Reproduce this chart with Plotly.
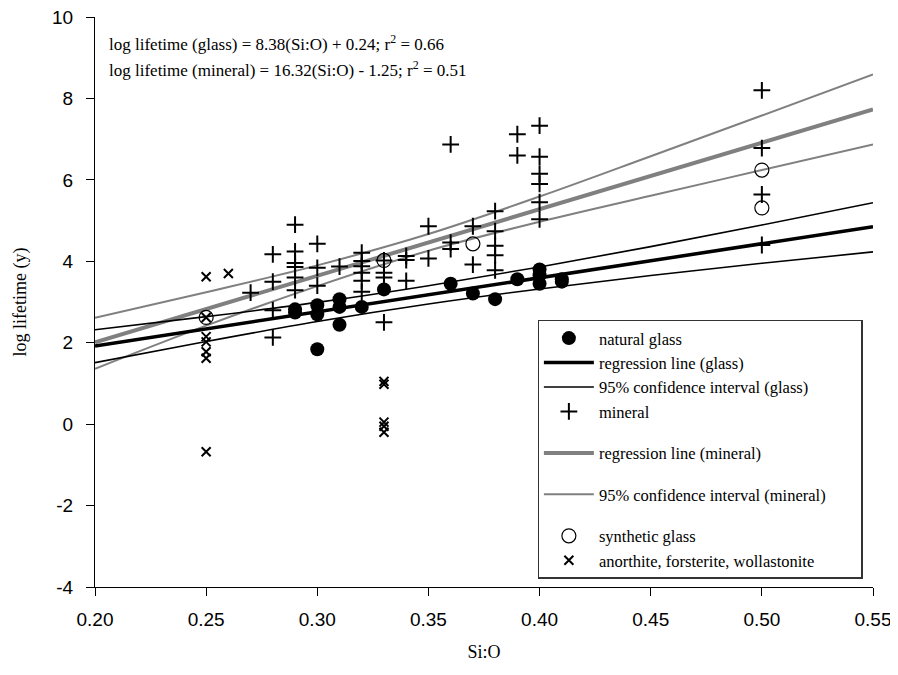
import plotly.graph_objects as go

# ---------------- data ----------------
glass_x = [0.29, 0.29, 0.30, 0.30, 0.30, 0.31, 0.31, 0.31, 0.32, 0.33,
           0.36, 0.37, 0.38, 0.39, 0.40, 0.40, 0.40, 0.41, 0.41]
glass_y = [2.82, 2.74, 2.92, 2.70, 1.84, 3.07, 2.88, 2.44, 2.88, 3.31,
           3.45, 3.21, 3.07, 3.56, 3.80, 3.66, 3.45, 3.56, 3.50]

mineral_x = [0.27,
             0.28, 0.28, 0.28, 0.28,
             0.29, 0.29, 0.29, 0.29, 0.29, 0.29,
             0.30, 0.30, 0.30,
             0.31,
             0.32, 0.32, 0.32, 0.32, 0.32, 0.32,
             0.33, 0.33, 0.33, 0.33,
             0.34, 0.34, 0.34,
             0.35, 0.35,
             0.36, 0.36, 0.36,
             0.37, 0.37,
             0.38, 0.38, 0.38, 0.38, 0.38,
             0.39, 0.39,
             0.40, 0.40, 0.40, 0.40, 0.40, 0.40,
             0.50, 0.50, 0.50, 0.50]
mineral_y = [3.23,
             4.17, 3.50, 2.80, 2.13,
             4.90, 4.24, 3.96, 3.86, 3.60, 3.29,
             4.43, 3.84, 3.40,
             3.87,
             4.21, 4.01, 3.88, 3.72, 3.52, 3.25,
             4.02, 3.72, 3.60, 2.50,
             4.13, 4.03, 3.52,
             4.86, 4.07,
             6.87, 4.46, 4.30,
             4.86, 3.92,
             5.23, 4.74, 4.38, 4.15, 3.78,
             7.12, 6.60,
             7.33, 6.57, 6.15, 5.90, 5.45, 5.03,
             8.20, 6.78, 5.64, 4.40]

synth_x = [0.25, 0.33, 0.37, 0.50, 0.50]
synth_y = [2.62, 4.02, 4.43, 6.24, 5.31]

afw_x = [0.25, 0.25, 0.25, 0.25, 0.25, 0.25, 0.25,
         0.26,
         0.33, 0.33, 0.33, 0.33, 0.33]
afw_y = [3.62, 2.62, 2.15, 2.02, 1.78, 1.62, -0.68,
         3.70,
         1.05, 0.98, 0.05, -0.05, -0.20]

# regression lines (end points)
reg_x = [0.20, 0.55]
reg_glass_y = [1.92, 4.85]
reg_mineral_y = [2.01, 7.73]

# 95% confidence bands
ci_x = [0.20, 0.25, 0.30, 0.35, 0.40, 0.45, 0.50, 0.55]
ci_glass_hi = [2.32, 2.64, 2.99, 3.40, 3.86, 4.36, 4.89, 5.44]
ci_glass_lo = [1.51, 2.03, 2.52, 2.95, 3.32, 3.65, 3.95, 4.23]
ci_mineral_hi = [2.61, 3.24, 3.90, 4.67, 5.59, 6.58, 7.58, 8.59]
ci_mineral_lo = [1.36, 2.42, 3.39, 4.26, 4.97, 5.61, 6.24, 6.87]

x_ticks = [0.20, 0.25, 0.30, 0.35, 0.40, 0.45, 0.50, 0.55]
x_ticklabels = ["0.20", "0.25", "0.30", "0.35", "0.40", "0.45", "0.50", "0.55"]
y_ticks = [-4, -2, 0, 2, 4, 6, 8, 10]
y_ticklabels = ["-4", "-2", "0", "2", "4", "6", "8", "10"]

eq_glass = "log lifetime (glass) = 8.38(Si:O) + 0.24; r<sup>2</sup> = 0.66"
eq_mineral = "log lifetime (mineral) = 16.32(Si:O) - 1.25; r<sup>2</sup> = 0.51"

SERIF = "Liberation Serif, Times New Roman, serif"
SANS = "Liberation Sans, Arial, sans-serif"
GRAY = "#808080"
PAD = "&nbsp;" * 10

fig = go.Figure()


def band(xs, hi, lo):
    return xs + [None] + xs, hi + [None] + lo


# lines first (drawn underneath markers)
bx, by = band(ci_x, ci_mineral_hi, ci_mineral_lo)
fig.add_trace(go.Scatter(x=bx, y=by, mode="lines", name="95% confidence interval (mineral)",
                         line=dict(color=GRAY, width=2, shape="spline"),
                         legendgroup="g3", legendrank=6))
fig.add_trace(go.Scatter(x=reg_x, y=reg_mineral_y, mode="lines", name="regression line (mineral)",
                         line=dict(color=GRAY, width=4),
                         legendgroup="g2", legendrank=5))
bx, by = band(ci_x, ci_glass_hi, ci_glass_lo)
fig.add_trace(go.Scatter(x=bx, y=by, mode="lines", name="95% confidence interval (glass)",
                         line=dict(color="black", width=1.6, shape="spline"),
                         legendgroup="g1", legendrank=3))
fig.add_trace(go.Scatter(x=reg_x, y=reg_glass_y, mode="lines", name="regression line (glass)",
                         line=dict(color="black", width=3.5),
                         legendgroup="g1", legendrank=2))

# markers
fig.add_trace(go.Scatter(x=mineral_x, y=mineral_y, mode="markers", name="mineral",
                         marker=dict(symbol="cross-thin", size=12, line=dict(color="black", width=2)),
                         legendgroup="g1", legendrank=4))
fig.add_trace(go.Scatter(x=afw_x, y=afw_y, mode="markers",
                         name="anorthite, forsterite, wollastonite" + PAD,
                         marker=dict(symbol="x-thin", size=9, line=dict(color="black", width=2)),
                         legendgroup="g4", legendrank=8))
fig.add_trace(go.Scatter(x=glass_x, y=glass_y, mode="markers", name="natural glass",
                         marker=dict(symbol="circle", size=14, color="black"),
                         legendgroup="g1", legendrank=1))
fig.add_trace(go.Scatter(x=synth_x, y=synth_y, mode="markers", name="synthetic glass",
                         marker=dict(symbol="circle-open", size=14, color="black",
                                     line=dict(color="black", width=1.2)),
                         legendgroup="g4", legendrank=7))

fig.add_annotation(x=0.016, y=0.954, xref="paper", yref="paper", xanchor="left", yanchor="middle",
                   text=eq_glass, showarrow=False, font=dict(family=SERIF, size=17, color="black"))
fig.add_annotation(x=0.016, y=0.909, xref="paper", yref="paper", xanchor="left", yanchor="middle",
                   text=eq_mineral, showarrow=False, font=dict(family=SERIF, size=17, color="black"))

# the page adds an 8px body margin, so the figure is 8px smaller and the margins shifted
fig.update_layout(
    width=890, height=667,
    margin=dict(l=86.5, r=24.5, t=9, b=88),
    paper_bgcolor="white", plot_bgcolor="white",
    showlegend=True,
    legend=dict(x=0.569, y=0.469, xanchor="left", yanchor="top",
                bordercolor="#333333", borderwidth=1.2, bgcolor="white",
                font=dict(family=SERIF, size=16.5, color="black"),
                traceorder="grouped", tracegroupgap=17, itemwidth=50),
    xaxis=dict(range=[0.2, 0.55], tickvals=x_ticks, ticktext=x_ticklabels,
               showline=True, linecolor="black", linewidth=1.2,
               ticks="outside", ticklen=8, tickwidth=1.2, tickcolor="black",
               showgrid=False, zeroline=False, automargin=False, ticklabeloverflow="allow",
               ticklabelstandoff=7,
               tickfont=dict(family=SANS, size=19, color="black"),
               title=dict(text="Si:O", font=dict(family=SERIF, size=18, color="black"), standoff=16)),
    yaxis=dict(range=[-4, 10], tickvals=y_ticks, ticktext=y_ticklabels,
               showline=True, linecolor="black", linewidth=1.2,
               ticks="outside", ticklen=8, tickwidth=1.2, tickcolor="black",
               showgrid=False, zeroline=False, automargin=False, ticklabeloverflow="allow",
               ticklabelstandoff=9,
               tickfont=dict(family=SANS, size=19, color="black"),
               title=dict(text="log lifetime (y)", font=dict(family=SERIF, size=18, color="black"), standoff=20)),
)

fig.write_html("out.html")
